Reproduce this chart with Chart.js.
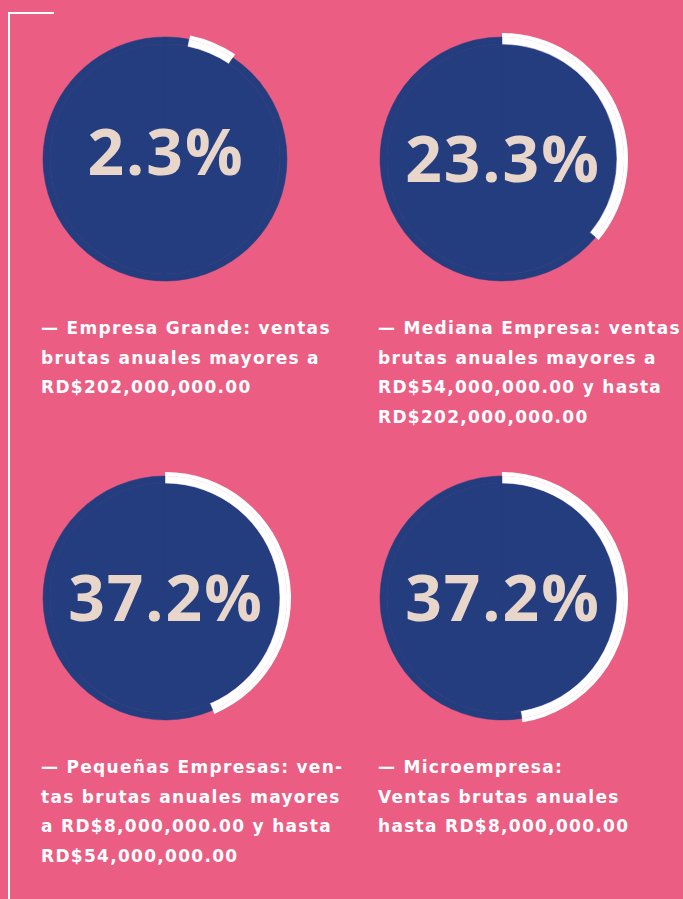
<!DOCTYPE html>
<html>
<head>
<meta charset="utf-8">
<script src="https://cdn.jsdelivr.net/npm/chart.js@4.4.0/dist/chart.umd.min.js"></script>
<style>
  html, body {
    margin: 0;
    padding: 0;
    width: 683px;
    height: 899px;
    overflow: hidden;
    background: #eb5d83;
  }
  .frame-v {
    position: absolute;
    left: 8px;
    top: 12px;
    width: 2px;
    height: 900px;
    background: #fff;
  }
  .frame-h {
    position: absolute;
    left: 8px;
    top: 12px;
    width: 46px;
    height: 2px;
    background: #fff;
  }
  .ring {
    position: absolute;
    width: 252px;
    height: 252px;
  }
  .pct {
    position: absolute;
    width: 252px;
    box-sizing: border-box;
    padding-left: 2px;
    text-align: center;
    color: #e9d6ca;
    font-family: "Open Sans", sans-serif;
    font-weight: 700;
    font-size: 64px;
    letter-spacing: 2px;
    line-height: 64px;
    white-space: nowrap;
  }
  .label {
    position: absolute;
    color: #fff;
    font-family: "DejaVu Sans", sans-serif;
    font-weight: 700;
    font-size: 17px;
    letter-spacing: 1.3px;
    line-height: 29.5px;
    white-space: nowrap;
  }
</style>
</head>
<body>
<div class="frame-v"></div>
<div class="frame-h"></div>
<div id="wrap"></div>

<script>
  // values shown in the middle of each circle
  const percentages = [2.3, 23.3, 37.2, 37.2];
  // white arc around each circle, in % of a full turn (clockwise from top)
  const arcStart = [3.2, 0, 0, 0];
  const arcEnd = [9.4, 36.1, 43.6, 47.4];

  const descriptions = [
    ["— Empresa Grande: ventas", "brutas anuales mayores a", "RD$202,000,000.00"],
    ["— Mediana Empresa: ventas", "brutas anuales mayores a", "RD$54,000,000.00 y hasta", "RD$202,000,000.00"],
    ["— Pequeñas Empresas: ven-", "tas brutas anuales mayores", "a RD$8,000,000.00 y hasta", "RD$54,000,000.00"],
    ["— Microempresa:", "Ventas brutas anuales", "hasta RD$8,000,000.00"],
  ];

  // layout of the 2x2 grid
  const centers = [[165, 159], [502, 159], [165, 598], [502, 598]];
  const labelPos = [[41, 314], [378, 314], [41, 753], [378, 753]];
  const baselineShift = [17, 24, 24, 24];

  const navy = "#243d7f";
  const white = "#ffffff";
  const clear = "rgba(0,0,0,0)";

  const wrap = document.getElementById("wrap");

  percentages.forEach((p, i) => {
    const [cx, cy] = centers[i];

    const canvas = document.createElement("canvas");
    canvas.className = "ring";
    canvas.style.left = cx - 126 + "px";
    canvas.style.top = cy - 126 + "px";
    wrap.appendChild(canvas);

    const before = arcStart[i];
    const arc = arcEnd[i] - arcStart[i];
    const after = 100 - arcEnd[i];

    new Chart(canvas.getContext("2d"), {
      type: "doughnut",
      data: {
        labels: ["", "", ""],
        datasets: [
          {
            // outer edge of the white arc, sticking out of the circle
            data: [before, arc, after],
            backgroundColor: [clear, white, clear],
            borderWidth: 0,
            weight: 4,
          },
          {
            // white arc over the rim of the circle
            data: [before, arc, after],
            backgroundColor: [navy, white, navy],
            borderColor: [navy, white, navy],
            borderWidth: 0.5,
            weight: 7,
          },
          {
            // the circle itself
            data: [100],
            backgroundColor: [navy],
            borderColor: [navy],
            borderWidth: 0.5,
            weight: 115,
          },
        ],
      },
      options: {
        responsive: false,
        animation: false,
        events: [],
        cutout: 0,
        layout: { padding: 0 },
        plugins: {
          legend: { display: false },
          tooltip: { enabled: false },
        },
      },
    });

    // big number, baseline ~57px below the top of its line box
    const pct = document.createElement("div");
    pct.className = "pct";
    pct.style.left = cx - 126 + "px";
    pct.style.top = cy + baselineShift[i] - 57 + "px";
    pct.textContent = p.toFixed(1) + "%";
    wrap.appendChild(pct);

    const label = document.createElement("div");
    label.className = "label";
    label.style.left = labelPos[i][0] + "px";
    label.style.top = labelPos[i][1] + "px";
    label.innerHTML = descriptions[i].join("<br>");
    wrap.appendChild(label);
  });
</script>
</body>
</html>
